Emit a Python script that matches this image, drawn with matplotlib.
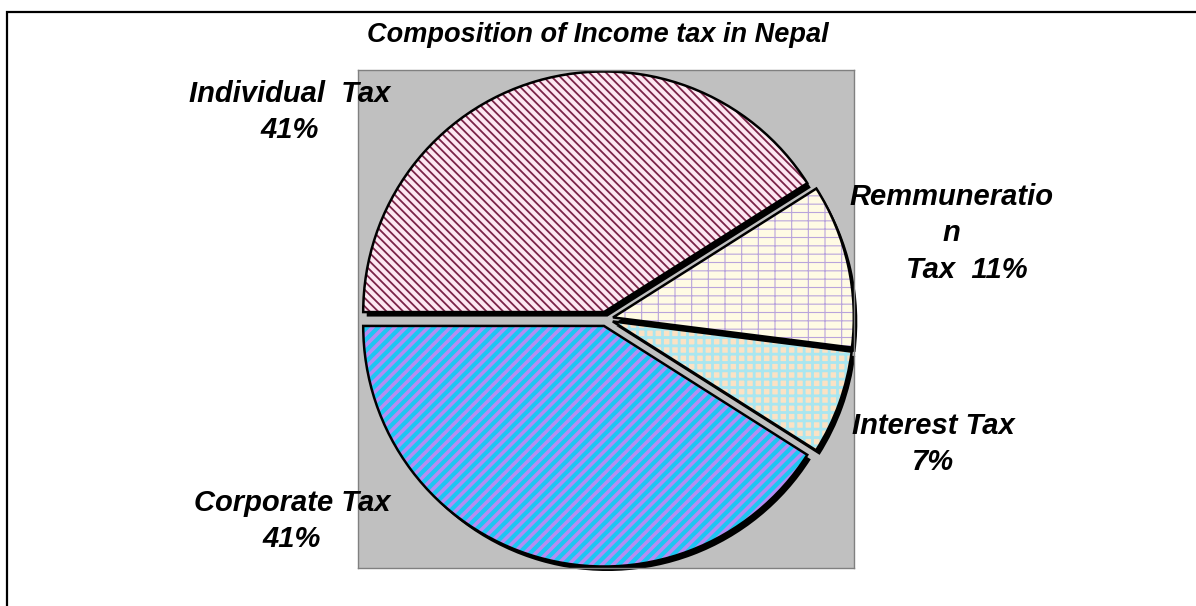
import matplotlib
matplotlib.use("Agg")
import matplotlib.pyplot as plt
from matplotlib.patches import Rectangle
from matplotlib.transforms import ScaledTranslation

# slice data, clockwise from 9 o'clock
labels = ["Individual  Tax", "Remmuneratio\nn\nTax  11%", "Interest Tax", "Corporate Tax"]
shares = [41, 11, 7, 41]
pct_text = ["41%", "", "7%", "41%"]

face_colors = ["#fde8f2", "#fffbe4", "#fbe2c4", "#1ec6f2"]
hatch_colors = ["#7a2448", "#b9a4dc", "#a9e6f0", "#b58cf2"]
hatches = ["\\\\\\\\", "+-", "++", "///"]
hatch_widths = [1.3, 0.8, 2.0, 2.6]

plt.rcParams["font.family"] = ["Liberation Sans", "DejaVu Sans"]

fig = plt.figure(figsize=(11.96, 6.06), dpi=100)
fig.patch.set_facecolor("white")

# outer chart frame (only top / left visible)
fig.add_artist(Rectangle((7 / 1196, -0.1), 1.2, 0.1 + (606 - 12) / 606,
                         transform=fig.transFigure, fill=False,
                         edgecolor="black", lw=1.6))

ax = fig.add_axes([358 / 1196, (606 - 568) / 606, 496 / 1196, 498 / 606])

explode = [0.03] * len(shares)
common = dict(startangle=180, counterclock=False, explode=explode,
              radius=1.0, frame=True)

# black drop shadow
shadow, _ = ax.pie(shares, colors=["black"] * 4,
                   wedgeprops=dict(linewidth=0), **common)
offset = ScaledTranslation(0.035, -0.045, fig.dpi_scale_trans)
for w in shadow:
    w.set_transform(ax.transData + offset)

# hatched fills
fills, _ = ax.pie(shares, colors=face_colors,
                  wedgeprops=dict(linewidth=0), **common)
for w, h, hc, hw in zip(fills, hatches, hatch_colors, hatch_widths):
    w.set_hatch(h)
    w.set_edgecolor(hc)
    w.set_linewidth(0)
    w._hatch_linewidth = hw

# outlines
outl, _ = ax.pie(shares, colors=["none"] * 4,
                 wedgeprops=dict(linewidth=1.8, edgecolor="black", fill=False),
                 **common)

ax.set_facecolor("#c0c0c0")
for s in ax.spines.values():
    s.set_visible(True)
    s.set_color("#808080")
    s.set_linewidth(1.0)
ax.set_xticks([])
ax.set_yticks([])
ax.set_xlim(-1.03, 1.03)
ax.set_ylim(-1.035, 1.035)
ax.set_aspect("auto")

fs = 21
def lbl(x, y, s):
    fig.text(x / 1196, 1 - y / 606, s, ha="center", va="center",
             fontsize=fs, fontweight="bold", fontstyle="italic",
             linespacing=1.32)

lbl(290, 112, labels[0] + "\n" + pct_text[0])
rem = labels[1].split("\n")
lbl(951, 197, rem[0])
lbl(951, 233, rem[1])
lbl(967, 270, rem[2])
lbl(933, 444, labels[2] + "\n" + pct_text[2])
lbl(292, 521, labels[3] + "\n" + pct_text[3])

fig.text(598 / 1196, 1 - 35 / 606, "Composition of Income tax in Nepal",
         ha="center", va="center", fontsize=19.5, fontweight="bold",
         fontstyle="italic")

fig.savefig("out.png", dpi=100)
